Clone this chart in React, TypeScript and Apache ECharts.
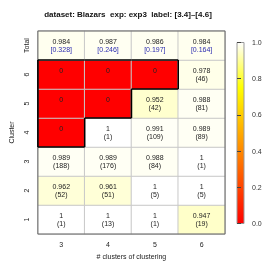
import React, { useEffect, useRef } from 'react';
import * as echarts from 'echarts';

const xCategories = ['3', '4', '5', '6'];
const yCategories = ['1', '2', '3', '4', '5', '6', 'Total'];

const totalScores = [0.984, 0.987, 0.986, 0.984];
const totalFractions = [0.328, 0.246, 0.197, 0.164];

// rows: cluster 1..6, columns: # clusters 3..6
const clusterScores = [
  [1, 1, 1, 0.947],
  [0.962, 0.961, 1, 1],
  [0.989, 0.989, 0.988, 1],
  [0, 1, 0.991, 0.989],
  [0, 0, 0.952, 0.988],
  [0, 0, 0, 0.978],
];
const clusterCounts: (number | null)[][] = [
  [1, 13, 1, 19],
  [52, 51, 5, 5],
  [188, 176, 84, 1],
  [null, 1, 109, 89],
  [null, null, 42, 81],
  [null, null, null, 46],
];

const colorbarTicks = [0, 0.2, 0.4, 0.6, 0.8, 1];
const heatColors = ['#FF0000', '#FF5500', '#FFAA00', '#FFFF00', '#FFFFFF'];

const FONT = "'Liberation Sans', Arial, Helvetica, sans-serif";

export default function App() {
  const ref = useRef<HTMLDivElement>(null);

  useEffect(() => {
    const chart = echarts.init(ref.current!, null, { renderer: 'svg' });

    const heatData: number[][] = [];
    clusterScores.forEach((row, yi) => {
      row.forEach((v, xi) => heatData.push([xi, yi, v]));
    });
    totalScores.forEach((v, xi) => heatData.push([xi, 6, v]));

    const isZero = (xi: number, yi: number) =>
      yi >= 0 && yi < 6 && xi >= 0 && xi < 4 && clusterScores[yi][xi] === 0;

    const zeroCells: number[][] = [];
    clusterScores.forEach((row, yi) => {
      row.forEach((v, xi) => {
        if (v === 0) zeroCells.push([xi, yi]);
      });
    });

    const labelFor = (xi: number, yi: number) => {
      if (yi === 6) {
        return `{t|${totalScores[xi]}}\n{b|[${totalFractions[xi].toFixed(3)}]}`;
      }
      const v = clusterScores[yi][xi];
      const c = clusterCounts[yi][xi];
      if (c === null) return `{t|${v}}\n{t| }`;
      return `{t|${v}}\n{t|(${c})}`;
    };

    const option: any = {
      animation: false,
      textStyle: { fontFamily: FONT },
      title: {
        text: 'dataset: Blazars  exp: exp3  label: [3.4]\u2013[4.6]',
        left: 128,
        top: 10,
        padding: 0,
        textAlign: 'center',
        textStyle: { fontSize: 8, fontWeight: 'bold', color: '#111', fontFamily: FONT },
      },
      grid: [
        { left: 32, right: 49, top: 31, bottom: 40 },
        {
          left: 237,
          top: 42.5,
          width: 7,
          height: 181,
          show: true,
          borderColor: '#999',
          borderWidth: 1,
          backgroundColor: new echarts.graphic.LinearGradient(0, 1, 0, 0, [
            { offset: 0, color: '#FF0000' },
            { offset: 0.75, color: '#FFFF00' },
            { offset: 1, color: '#FFFFFF' },
          ]),
        },
      ],
      xAxis: [
        {
          type: 'category',
          data: xCategories,
          gridIndex: 0,
          axisLine: { show: false },
          axisTick: { show: false },
          splitLine: { show: false },
          axisLabel: { fontSize: 7, color: '#222', margin: 7 },
          name: '# clusters of clustering',
          nameLocation: 'middle',
          nameGap: 14,
          nameTextStyle: { fontSize: 7, color: '#222' },
        },
        { type: 'value', gridIndex: 1, show: false, min: 0, max: 1 },
      ],
      yAxis: [
        {
          type: 'category',
          data: yCategories,
          gridIndex: 0,
          axisLine: { show: false },
          axisTick: { show: false },
          splitLine: { show: false },
          axisLabel: { fontSize: 7, color: '#222', margin: 8, rotate: 90 },
          name: 'Cluster',
          nameLocation: 'middle',
          nameGap: 16,
          nameRotate: 90,
          nameTextStyle: { fontSize: 7, color: '#222' },
        },
        {
          type: 'value',
          gridIndex: 1,
          position: 'right',
          min: 0,
          max: 1,
          interval: 0.2,
          axisLine: { show: false },
          axisTick: { show: true, length: 4, lineStyle: { color: '#444' } },
          splitLine: { show: false },
          axisLabel: {
            fontSize: 7,
            color: '#333',
            margin: 8,
            formatter: (v: number) => v.toFixed(1),
            customValues: colorbarTicks,
          },
        },
      ],
      visualMap: {
        type: 'continuous',
        show: false,
        min: 0,
        max: 1,
        dimension: 2,
        seriesIndex: 0,
        inRange: { color: heatColors },
      },
      series: [
        {
          type: 'heatmap',
          xAxisIndex: 0,
          yAxisIndex: 0,
          data: heatData,
          itemStyle: { borderColor: '#c8c8c8', borderWidth: 1 },
          label: {
            show: true,
            formatter: (p: any) => labelFor(p.value[0], p.value[1]),
            rich: {
              t: { fontSize: 7, lineHeight: 8, color: '#222', fontFamily: FONT },
              b: { fontSize: 7, lineHeight: 8, color: '#2b2bb0', fontFamily: FONT },
            },
          },
        },
        {
          type: 'custom',
          xAxisIndex: 0,
          yAxisIndex: 0,
          z: 5,
          silent: true,
          data: zeroCells,
          renderItem: (params: any, api: any) => {
            const xi = api.value(0);
            const yi = api.value(1);
            const c = api.coord([xi, yi]);
            const s = api.size([1, 1]);
            const l = c[0] - s[0] / 2;
            const r = c[0] + s[0] / 2;
            const t = c[1] - s[1] / 2;
            const b = c[1] + s[1] / 2;
            const style = { stroke: '#000', lineWidth: 1.6 };
            const children: any[] = [];
            if (!isZero(xi - 1, yi)) children.push({ type: 'line', shape: { x1: l, y1: t, x2: l, y2: b }, style });
            if (!isZero(xi + 1, yi)) children.push({ type: 'line', shape: { x1: r, y1: t, x2: r, y2: b }, style });
            if (!isZero(xi, yi + 1)) children.push({ type: 'line', shape: { x1: l, y1: t, x2: r, y2: t }, style });
            if (!isZero(xi, yi - 1)) children.push({ type: 'line', shape: { x1: l, y1: b, x2: r, y2: b }, style });
            return { type: 'group', children };
          },
        },
        {
          type: 'custom',
          xAxisIndex: 0,
          yAxisIndex: 0,
          z: 4,
          silent: true,
          data: [[0, 0]],
          renderItem: (params: any) => {
            const cs = params.coordSys;
            return {
              type: 'rect',
              shape: { x: cs.x, y: cs.y, width: cs.width, height: cs.height },
              style: { fill: 'none', stroke: '#666', lineWidth: 1 },
            };
          },
        },
        {
          type: 'scatter',
          xAxisIndex: 1,
          yAxisIndex: 1,
          data: [],
        },
      ],
    };

    chart.setOption(option);
    return () => chart.dispose();
  }, []);

  return (
    <div
      ref={ref}
      style={{ position: 'fixed', left: 0, top: 0, width: 274, height: 274 }}
    />
  );
}
